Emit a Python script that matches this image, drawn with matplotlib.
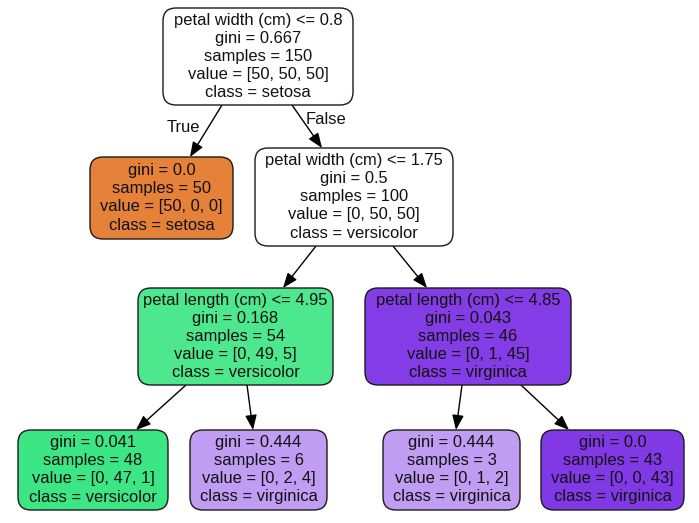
import matplotlib
matplotlib.use("Agg")
import matplotlib.pyplot as plt
from matplotlib.patches import FancyBboxPatch

# ---- tree data ----
conditions = ["petal width (cm) <= 0.8", None, "petal width (cm) <= 1.75",
              "petal length (cm) <= 4.95", "petal length (cm) <= 4.85",
              None, None, None, None]
ginis = ["0.667", "0.0", "0.5", "0.168", "0.043", "0.041", "0.444", "0.444", "0.0"]
samples = [150, 50, 100, 54, 46, 48, 6, 3, 43]
values = [[50, 50, 50], [50, 0, 0], [0, 50, 50], [0, 49, 5], [0, 1, 45],
          [0, 47, 1], [0, 2, 4], [0, 1, 2], [0, 0, 43]]
classes = ["setosa", "setosa", "versicolor", "versicolor", "virginica",
           "versicolor", "virginica", "virginica", "virginica"]
edges = [(0, 1), (0, 2), (2, 3), (2, 4), (3, 5), (3, 6), (4, 7), (4, 8)]
edge_labels = {(0, 1): "True", (0, 2): "False"}
fills = ["#ffffff", "#e58139", "#ffffff", "#4de88e", "#843de6",
         "#3de684", "#c09cf2", "#c09cf2", "#8139e5"]

# ---- layout (pixel space) ----
boxes = [(163, 8, 353, 105), (90, 157, 233, 239), (255, 148, 453, 246),
         (138, 288, 333, 385), (365, 288, 571, 385),
         (18, 430, 168, 510), (190, 430, 327, 510), (383, 430, 520, 510),
         (541, 430, 684, 510)]
edge_pts = {(0, 1): ((222, 105), (190, 157)), (0, 2): ((292, 105), (322, 148)),
            (2, 3): ((316, 246), (283, 288)), (2, 4): ((393, 246), (427, 288)),
            (3, 5): ((186, 385), (136, 430)), (3, 6): ((247, 385), (253, 430)),
            (4, 7): ((462, 385), (456, 430)), (4, 8): ((521, 385), (569, 430))}
label_pos = {(0, 1): (183, 128), (0, 2): (326, 119)}

W, H = 699, 523
fig = plt.figure(figsize=(W / 100, H / 100), dpi=100)
ax = fig.add_axes([0, 0, 1, 1])
ax.set_xlim(0, W)
ax.set_ylim(H, 0)
ax.axis("off")

FONT = "Liberation Sans"
FS = 11.9
LINE = 18

for i, (x0, y0, x1, y1) in enumerate(boxes):
    r = 13
    p = FancyBboxPatch((x0 + r, y0 + r), (x1 - x0) - 2 * r, (y1 - y0) - 2 * r,
                       boxstyle=f"round,pad={r},rounding_size={r}",
                       facecolor=fills[i], edgecolor="#1a1a1a", linewidth=1.0,
                       zorder=2)
    ax.add_patch(p)
    lines = []
    if conditions[i]:
        lines.append(conditions[i])
    lines.append(f"gini = {ginis[i]}")
    lines.append(f"samples = {samples[i]}")
    lines.append("value = [" + ", ".join(str(v) for v in values[i]) + "]")
    lines.append(f"class = {classes[i]}")
    cx = (x0 + x1) / 2
    cy = (y0 + y1) / 2
    n = len(lines)
    for k, t in enumerate(lines):
        y = cy + (k - (n - 1) / 2) * LINE
        ax.text(cx, y, t, ha="center", va="center", fontsize=FS,
                family=FONT, color="#111111", zorder=3)

for e in edges:
    (sx, sy), (tx, ty) = edge_pts[e]
    ax.annotate("", xy=(tx, ty), xytext=(sx, sy),
                arrowprops=dict(arrowstyle="-|>,head_length=0.9,head_width=0.35",
                                color="black", lw=1.0, shrinkA=0, shrinkB=0),
                zorder=1)
    if e in edge_labels:
        lx, ly = label_pos[e]
        ax.text(lx, ly, edge_labels[e], ha="center", va="center",
                fontsize=FS, family=FONT, color="#111111")

fig.savefig("out.png", dpi=100, facecolor="white")
